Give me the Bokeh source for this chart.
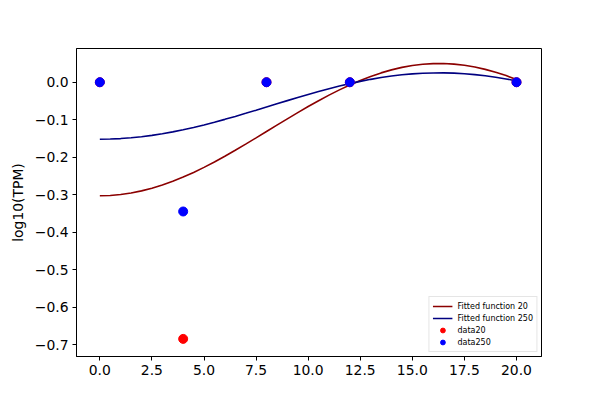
from bokeh.plotting import figure
from bokeh.models import FixedTicker, CustomJSTickFormatter, Legend, LegendItem, Range1d
from bokeh.embed import file_html
from bokeh.resources import INLINE

# Fitted curves
fit_x = [0, 0.5, 1, 1.5, 2, 2.5, 3, 3.5, 4, 4.5, 5, 5.5, 6, 6.5, 7, 7.5, 8, 8.5, 9, 9.5,
         10, 10.5, 11, 11.5, 12, 12.5, 13, 13.5, 14, 14.5, 15, 15.5, 16, 16.5, 17, 17.5,
         18, 18.5, 19, 19.5, 20]
fit20_y = [-0.303, -0.3022, -0.2997, -0.2957, -0.290, -0.2829, -0.2743, -0.2643, -0.2531,
           -0.2407, -0.2273, -0.2129, -0.1976, -0.1817, -0.1653, -0.1485, -0.1316, -0.1146,
           -0.0977, -0.0811, -0.0649, -0.0493, -0.0344, -0.0204, -0.0074, 0.0046, 0.0155,
           0.0249, 0.033, 0.0396, 0.0446, 0.0479, 0.0497, 0.0499, 0.0484, 0.0452, 0.0406,
           0.0343, 0.0267, 0.0178, 0.007]
fit250_y = [-0.152, -0.1516, -0.1504, -0.1483, -0.1455, -0.1419, -0.1376, -0.1326, -0.127,
            -0.1208, -0.1141, -0.1068, -0.0991, -0.0912, -0.083, -0.0746, -0.066, -0.0575,
            -0.0491, -0.0407, -0.0326, -0.0248, -0.0173, -0.0103, -0.0038, 0.0022, 0.0077,
            0.0124, 0.0165, 0.0198, 0.0223, 0.0239, 0.0248, 0.0249, 0.0242, 0.0226, 0.0203,
            0.0171, 0.0133, 0.0088, 0.0035]

# Data points
data_x = [0, 4, 8, 12, 20]
data20_y = [0.0, -0.685, 0.0, 0.0, 0.0]
data250_y = [0.0, -0.345, 0.0, 0.0, 0.0]

x_ticks = [0, 2.5, 5, 7.5, 10, 12.5, 15, 17.5, 20]
y_ticks = [0.0, -0.1, -0.2, -0.3, -0.4, -0.5, -0.6, -0.7]

FONT = "DejaVu Sans"

p = figure(frame_width=465, frame_height=308,
           output_backend="svg", toolbar_location=None,
           x_range=Range1d(-1.12, 21.2), y_range=Range1d(-0.732, 0.090),
           min_border_left=70, min_border_top=48, min_border_right=44, min_border_bottom=10,
           margin=(0, 0, 0, 6))
p.background_fill_color = "white"
p.border_fill_color = "white"
p.outline_line_color = "black"
p.outline_line_width = 1
p.xgrid.visible = False
p.ygrid.visible = False

r1 = p.line(fit_x, fit20_y, line_color="#8B0000", line_width=1.6)
r2 = p.line(fit_x, fit250_y, line_color="#000080", line_width=1.6)
r3 = p.scatter(data_x, data20_y, size=9, fill_color="#ff0000", line_color="#ff0000")
r4 = p.scatter(data_x, data250_y, size=9, fill_color="#0000ff", line_color="#0000ff")

fmt = CustomJSTickFormatter(code="return tick.toFixed(1).replace('-', '\\u2212');")
p.xaxis.ticker = FixedTicker(ticks=x_ticks)
p.yaxis.ticker = FixedTicker(ticks=y_ticks)
p.xaxis.formatter = fmt
p.yaxis.formatter = fmt
for ax in (p.xaxis, p.yaxis):
    ax.major_tick_out = 4
    ax.major_tick_in = 0
    ax.minor_tick_out = 0
    ax.minor_tick_in = 0
    ax.major_tick_line_color = "black"
    ax.axis_line_color = "black"
    ax.major_label_text_font = FONT
    ax.major_label_text_font_size = "13.9px"
    ax.major_label_text_color = "black"
    ax.major_label_standoff = 4
    ax.axis_label_text_font = FONT
    ax.axis_label_text_font_size = "13.9px"
    ax.axis_label_text_font_style = "normal"
    ax.axis_label_text_color = "black"
p.yaxis.axis_label = "log10(TPM)"
p.yaxis.axis_label_standoff = 6

legend = Legend(items=[
    LegendItem(label="Fitted function 20", renderers=[r1]),
    LegendItem(label="Fitted function 250", renderers=[r2]),
    LegendItem(label="data20", renderers=[r3]),
    LegendItem(label="data250", renderers=[r4]),
], location="bottom_right")
legend.margin = 4
legend.padding = 3
legend.spacing = 0
legend.glyph_width = 20
legend.glyph_height = 12
legend.label_height = 12
legend.label_standoff = 5
legend.label_text_font = FONT
legend.label_text_font_size = "8px"
legend.label_text_color = "black"
legend.border_line_color = "#cccccc"
legend.border_line_width = 1
legend.background_fill_alpha = 0.8
p.add_layout(legend)

open("out.html", "w").write(file_html(p, INLINE))
